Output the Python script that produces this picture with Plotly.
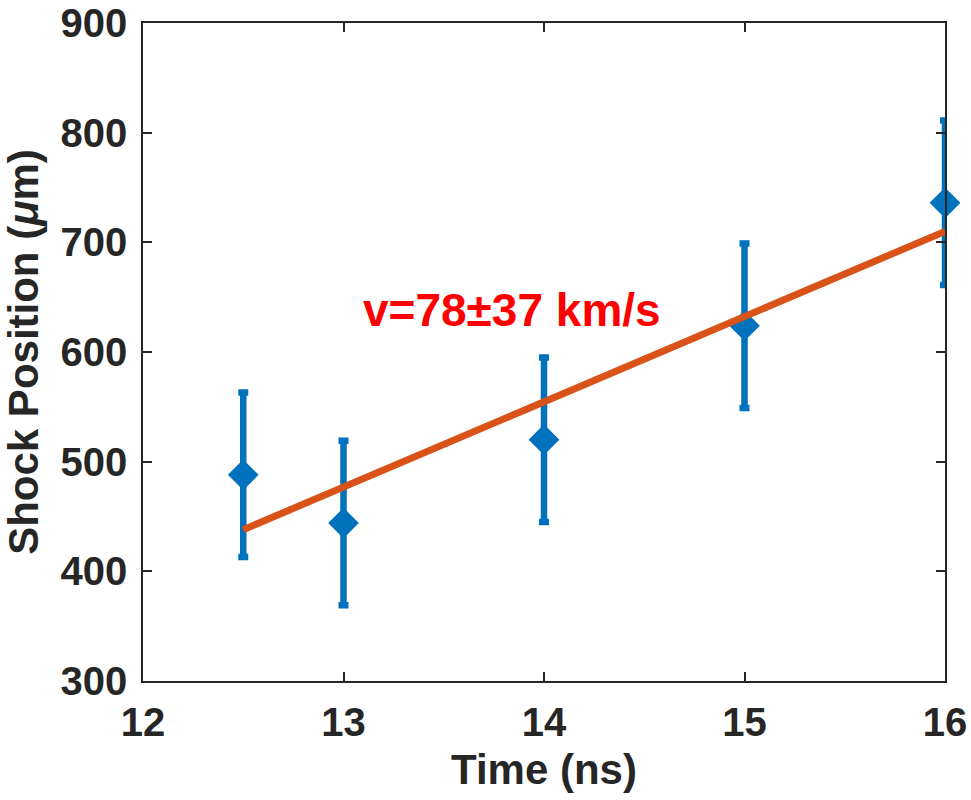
import plotly.graph_objects as go

# Data
time_ns = [12.5, 13, 14, 15, 16]
shock_pos = [488, 444, 520, 624, 736]
pos_err = [75, 75, 75, 75, 75]

fit_x = [12.5, 16]
fit_y = [438, 710]

x_ticks = [12, 13, 14, 15, 16]
y_ticks = [300, 400, 500, 600, 700, 800, 900]

annot_text = "v=78±37 km/s"
annot_x = 13.84
annot_y = 638

BLUE = "#0072BD"
ORANGE = "#D95319"
AX = "#262626"
FONT = "Liberation Sans, Arial, sans-serif"

fig = go.Figure()
fig.add_trace(go.Scatter(
    x=time_ns, y=shock_pos, mode="markers",
    marker=dict(symbol="diamond", size=22, color=BLUE, line=dict(color=BLUE, width=1.5)),
    error_y=dict(type="data", array=pos_err, visible=True, color=BLUE, thickness=6.5, width=5),
    cliponaxis=False,
    showlegend=False,
))
fig.add_trace(go.Scatter(
    x=fit_x, y=fit_y, mode="lines",
    line=dict(color=ORANGE, width=7),
    cliponaxis=False,
    showlegend=False,
))

fig.add_annotation(
    x=annot_x, y=annot_y, text=annot_text, showarrow=False,
    font=dict(family=FONT, size=46, color="#FF0000", weight="bold"),
)

axis_common = dict(
    showline=True, linecolor=AX, linewidth=1.5, mirror="ticks",
    ticks="inside", ticklen=9, tickwidth=1.5, tickcolor=AX,
    showgrid=False, zeroline=False,
    tickfont=dict(family=FONT, size=40, color=AX, weight="bold"),
)

fig.update_xaxes(
    range=[12, 16], tickvals=x_ticks, ticktext=[str(v) for v in x_ticks],
    title=dict(text="Time (ns)", font=dict(family=FONT, size=42, color=AX, weight="bold"), standoff=12),
    ticklabelstandoff=5,
    **axis_common,
)
fig.update_yaxes(
    range=[300, 900], tickvals=y_ticks, ticktext=[str(v) for v in y_ticks],
    title=dict(text="Shock Position (<i>μ</i>m)", font=dict(family=FONT, size=42, color=AX, weight="bold"), standoff=10),
    ticklabelstandoff=6,
    **axis_common,
)

fig.update_layout(
    width=971, height=800,
    margin=dict(l=143, r=26, t=23, b=119, autoexpand=False),
    plot_bgcolor="white", paper_bgcolor="white",
)

fig.write_html("out.html")
